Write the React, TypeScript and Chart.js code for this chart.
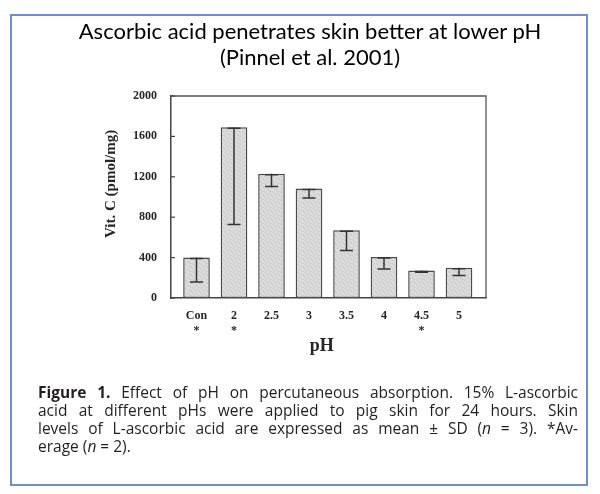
import React, { useEffect, useRef } from "react";
import { Chart, registerables } from "chart.js";

Chart.register(...registerables);

// ---- data ----
const CATEGORIES = ["Con", "2", "2.5", "3", "3.5", "4", "4.5", "5"];
const AVERAGE_ONLY = [true, true, false, false, false, false, true, false]; // marked with *
const MEAN_VALUES = [400, 1690, 1230, 1085, 670, 405, 272, 300];
const LOWER_SD = [158, 727, 1105, 990, 470, 288, 254, 224];
const Y_MIN = 0;
const Y_MAX = 2000;
const Y_STEP = 400;

const TITLE_LINES = ["Ascorbic acid penetrates skin better at lower pH", "(Pinnel et al. 2001)"];
const Y_TITLE = "Vit. C (pmol/mg)";
const X_TITLE = "pH";

const SERIF = "'Liberation Serif', 'Times New Roman', serif";
const INK = "#262626";

// fixed stipple tile (hand-placed dots) for the scanned-bar look
const STIPPLE_DOTS: [number, number, string][] = [
  [1, 0, "#b5b5b5"], [5, 1, "#c2c2c2"], [3, 2, "#bdbdbd"], [7, 3, "#b8b8b8"],
  [0, 4, "#c4c4c4"], [4, 5, "#b6b6b6"], [2, 6, "#c0c0c0"], [6, 7, "#bababa"],
  [6, 2, "#cfcfcf"], [2, 3, "#cccccc"], [5, 6, "#cdcdcd"], [0, 7, "#cbcbcb"],
];

function makeStipple(): CanvasPattern | string {
  const c = document.createElement("canvas");
  c.width = 8;
  c.height = 8;
  const g = c.getContext("2d");
  if (!g) return "#d6d6d6";
  g.fillStyle = "#dcdcdc";
  g.fillRect(0, 0, 8, 8);
  STIPPLE_DOTS.forEach(([x, y, col]) => {
    g.fillStyle = col;
    g.fillRect(x, y, 1, 1);
  });
  const p = g.createPattern(c, "repeat");
  return p || "#d6d6d6";
}

const framePlugin = {
  id: "frameAndErrors",
  afterDatasetsDraw(chart: any) {
    const { ctx, chartArea, scales } = chart;
    const xs = scales.x;
    const ys = scales.y;
    ctx.save();
    // error bars (lower SD whiskers)
    ctx.strokeStyle = "#333";
    ctx.lineWidth = 1.5;
    const cap = 13;
    MEAN_VALUES.forEach((m, i) => {
      const x = xs.getPixelForValue(i);
      const yTop = ys.getPixelForValue(m);
      const yBot = ys.getPixelForValue(LOWER_SD[i]);
      ctx.beginPath();
      ctx.moveTo(x, yTop);
      ctx.lineTo(x, yBot);
      ctx.moveTo(x - cap / 2, yBot);
      ctx.lineTo(x + cap / 2, yBot);
      ctx.moveTo(x - cap / 2, yTop + 1);
      ctx.lineTo(x + cap / 2, yTop + 1);
      ctx.stroke();
    });
    // top and right frame
    ctx.strokeStyle = "#555";
    ctx.lineWidth = 1.3;
    ctx.beginPath();
    ctx.moveTo(chartArea.left, chartArea.top);
    ctx.lineTo(chartArea.right, chartArea.top);
    ctx.lineTo(chartArea.right, chartArea.bottom);
    ctx.stroke();
    // inward tick marks on the y axis
    ctx.strokeStyle = "#444";
    ctx.lineWidth = 1.2;
    ys.ticks.forEach((t: any) => {
      const y = ys.getPixelForValue(t.value);
      ctx.beginPath();
      ctx.moveTo(chartArea.left, y);
      ctx.lineTo(chartArea.left + 4, y);
      ctx.stroke();
    });
    ctx.restore();
  },
};

export default function App() {
  const ref = useRef<HTMLCanvasElement | null>(null);

  useEffect(() => {
    if (!ref.current) return;
    const chart = new Chart(ref.current, {
      type: "bar",
      data: {
        datasets: [
          {
            data: MEAN_VALUES.map((v, i) => ({ x: i, y: v })),
            backgroundColor: makeStipple() as any,
            borderColor: "#4a4a4a",
            borderWidth: 1.5,
            borderSkipped: false,
            categoryPercentage: 1,
            barPercentage: 0.71,
          },
        ],
      },
      options: {
        responsive: false,
        animation: false,
        events: [],
        layout: { padding: { left: 98, top: 96, right: 114, bottom: 134 } },
        plugins: { legend: { display: false }, title: { display: false }, tooltip: { enabled: false } },
        scales: {
          x: {
            type: "linear",
            offset: false,
            min: -0.68,
            max: 7.72,
            afterBuildTicks: (s: any) => {
              s.ticks = CATEGORIES.map((_, i) => ({ value: i }));
            },
            afterFit: (s: any) => {
              s.height = 62;
            },
            grid: { display: false, offset: false },
            border: { display: true, color: "#444", width: 1.5 },
            ticks: {
              autoSkip: false,
              maxRotation: 0,
              padding: 3,
              color: INK,
              font: { family: SERIF, weight: "bold", size: 12, lineHeight: 1.2 },
              callback: (v: any) => {
                const i = Math.round(Number(v));
                return AVERAGE_ONLY[i] ? [CATEGORIES[i], "*"] : CATEGORIES[i];
              },
            },
            title: {
              display: true,
              text: X_TITLE + "\u00a0\u00a0\u00a0",
              color: INK,
              font: { family: SERIF, weight: "bold", size: 18, lineHeight: 1.2 },
              padding: { top: 4, bottom: 3 },
            },
          },
          y: {
            min: Y_MIN,
            max: Y_MAX,
            afterFit: (s: any) => {
              s.width = 73;
            },
            grid: { display: false },
            border: { display: true, color: "#444", width: 1.5 },
            ticks: {
              stepSize: Y_STEP,
              padding: 6,
              color: INK,
              font: { family: SERIF, weight: "bold", size: 12 },
              callback: (v: any) => String(v),
            },
            title: {
              display: true,
              text: "\u00a0".repeat(7) + Y_TITLE,
              color: INK,
              font: { family: SERIF, weight: "bold", size: 15, lineHeight: 1.2 },
              padding: { top: 4, bottom: 4 },
            },
          },
        },
      } as any,
      plugins: [framePlugin],
    });
    return () => chart.destroy();
  }, []);

  const captionLine: React.CSSProperties = {
    textAlign: "justify",
    textAlignLast: "justify" as any,
    whiteSpace: "nowrap",
    height: 18,
    lineHeight: "18px",
  };

  return (
    <div
      style={{
        position: "fixed",
        left: 0,
        top: 0,
        width: 600,
        height: 494,
        background: "#fff",
        overflow: "hidden",
      }}
    >
      <canvas ref={ref} width={600} height={494} style={{ position: "absolute", left: 0, top: 0 }} />
      <div
        style={{
          position: "absolute",
          left: 10,
          top: 14,
          width: 574,
          height: 468,
          border: "2px solid #6f8fcb",
          pointerEvents: "none",
        }}
      />
      <div
        style={{
          position: "absolute",
          left: 40,
          width: 540,
          top: 18,
          textAlign: "center",
          fontFamily: "Lato, 'Open Sans', sans-serif",
          fontSize: 22,
          lineHeight: "26px",
          color: "#000",
        }}
      >
        <div>{TITLE_LINES[0]}</div>
        <div>{TITLE_LINES[1]}</div>
      </div>
      <div
        style={{
          position: "absolute",
          left: 38,
          top: 383,
          width: 540,
          fontFamily: "'Open Sans', 'Noto Sans', sans-serif",
          fontSize: 15.5,
          color: "#231f20",
        }}
      >
        <div style={captionLine}>
          <b>Figure 1.</b> Effect of pH on percutaneous absorption. 15% L-ascorbic
        </div>
        <div style={captionLine}>acid at different pHs were applied to pig skin for 24 hours. Skin</div>
        <div style={captionLine}>
          levels of L-ascorbic acid are expressed as mean ± SD (<i>n</i> = 3). *Av-
        </div>
        <div style={{ height: 18, lineHeight: "18px" }}>
          erage (<i>n</i> = 2).
        </div>
      </div>
    </div>
  );
}
